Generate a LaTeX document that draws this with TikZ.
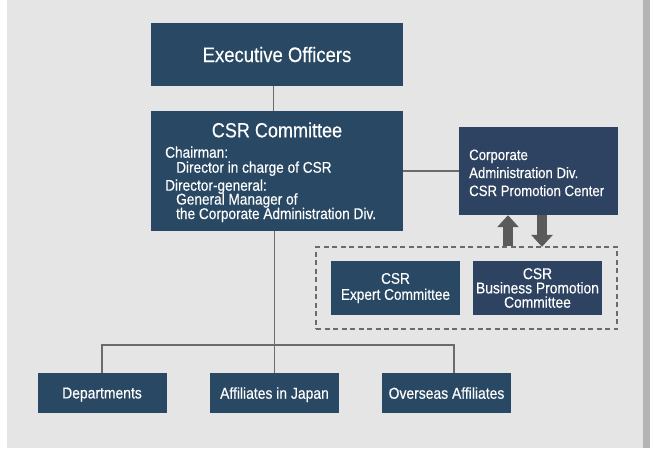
\documentclass[tikz,border=0pt]{standalone}
\usepackage{fontspec}
\setmainfont{Liberation Sans}[FakeStretch=0.88,FakeBold=0.3]
\usetikzlibrary{arrows.meta}
\definecolor{bgc}{HTML}{E5E5E5}
\definecolor{barc}{HTML}{B4B4B4}
\definecolor{navy}{HTML}{294863}
\definecolor{navyb}{HTML}{2E4361}
\definecolor{linec}{HTML}{6B6B6B}
\definecolor{arrc}{HTML}{5A5A5A}
\tikzset{
  box/.style={fill=navy, text=white, inner sep=0pt, align=center},
  boxb/.style={box, fill=navyb},
  txt/.style={text=white, inner sep=0pt, anchor=base west, font=\fontsize{15.5}{17}\selectfont},
  ctxt/.style={txt, font=\fontsize{15}{17}\selectfont},
  conn/.style={draw=linec, line width=1.4pt},
  grpbox/.style={draw=linec, line width=1.3pt, dash pattern=on 5pt off 3.5pt, inner sep=0pt},
  bigarr/.style={draw=arrc, line width=10pt, -{Triangle[width=21pt,length=12pt]}, arrc},
  bottombox/.style={box, minimum width=129pt, minimum height=40pt, text depth=0pt, font=\fontsize{15.8}{17}\selectfont}
}
\begin{document}
\begin{tikzpicture}[x=1pt,y=-1pt]
\useasboundingbox (0,0) rectangle (654,448);
\fill[bgc] (7,0) rectangle (643,448);
\fill[barc] (643,0) rectangle (650,448);

% top boxes
\node[box, minimum width=252pt, minimum height=63pt, font=\fontsize{21}{24}\selectfont] (exec) at (277,54.5) {Executive Officers};
\node[box, minimum width=252pt, minimum height=120pt] (csr) at (277,171) {};
\node[text=white, inner sep=0pt, anchor=base, font=\fontsize{20.5}{22}\selectfont] (csrt) at (277,137.3) {CSR Committee};
\node[txt] (l1) at (165,157.7) {Chairman:};
\node[txt] (l2) at (176,172.7) {Director in charge of CSR};
\node[txt] (l3) at (165,190.7) {Director-general:};
\node[txt] (l4) at (176,204.5) {General Manager of};
\node[txt] (l5) at (176,219) {the Corporate Administration Div.};

\node[boxb, minimum width=159pt, minimum height=88pt] (corp) at (538.5,171) {};
\node[ctxt] (c1) at (469,160) {Corporate};
\node[ctxt] (c2) at (469,178) {Administration Div.};
\node[ctxt] (c3) at (469,196) {CSR Promotion Center};

% group
\node[grpbox, minimum width=301pt, minimum height=82pt] (grp) at (466.5,288) {};
\node[box, minimum width=129pt, minimum height=54pt, font=\fontsize{15.5}{16}\selectfont] (exp) at (395.5,288) {CSR\\Expert Committee};
\node[boxb, minimum width=129pt, minimum height=54pt, font=\fontsize{15.7}{14.3}\selectfont] (bus) at (537.5,288) {CSR\\Business Promotion\\Committee};

% bottom boxes
\node[bottombox] (dep) at (102,393) {Departments};
\node[bottombox] (aff) at (274.5,393) {Affiliates in Japan};
\node[bottombox] (ovs) at (446.5,393) {Overseas Affiliates};

% connectors
\coordinate (xa) at (273.5,0);
\coordinate (bus0) at (0,345);
\coordinate (xr) at (454,0);
\draw[conn] (exec.south -| xa) -- (csr.north -| xa);
\draw[conn] (csr.east) -- (corp.west);
\draw[conn] (aff.north |- csr.south) -- (aff.north);
\draw[conn] (dep.north) -- (dep.north |- bus0) -- (xr |- bus0) -- (xr |- ovs.north);

% arrows
\coordinate (ux) at (508,0);
\coordinate (dx) at (542,0);
\draw[bigarr] (grp.north -| ux) -- (corp.south -| ux);
\draw[bigarr] (corp.south -| dx) -- ([yshift=-0.5pt]grp.north -| dx);
\end{tikzpicture}
\end{document}
